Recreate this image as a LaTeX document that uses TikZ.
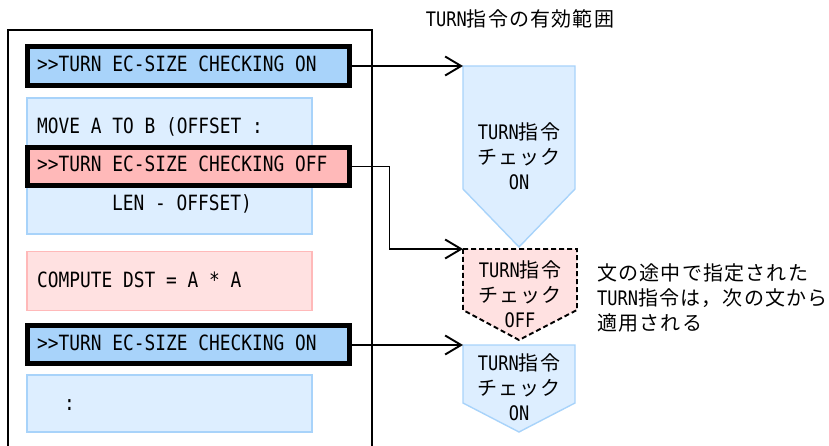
\documentclass[tikz,border=0pt]{standalone}
\usepackage{fontspec}
\usetikzlibrary{arrows.meta}
\newfontfamily\monof[FakeStretch=0.85]{DejaVu Sans Mono}
\newfontfamily\jpf[LetterSpace=6]{Noto Sans CJK JP}
\newcommand\turnw{{\monof TURN}}
\definecolor{bluestrong}{HTML}{A8D3FA}
\definecolor{bluelight}{HTML}{DDEEFF}
\definecolor{redstrong}{HTML}{FFB9B9}
\definecolor{redlight}{HTML}{FFE1E1}
\begin{document}
\begin{tikzpicture}[x=1pt,y=-1pt,
  code/.style={anchor=base west,inner sep=0pt,font=\monof\fontsize{21}{25}\selectfont},
  jtext/.style={inner sep=0pt,font=\jpf\fontsize{20}{25}\selectfont},
  strongbox/.style={draw=black,line width=5pt,minimum width=322pt,inner sep=0pt},
  lightbox/.style={line width=1.3pt,inner sep=0pt},
  conn/.style={line width=1.9pt},
  arr/.style={conn,-{Straight Barb[length=16pt,width=19pt,line width=1.9pt]}},
  pent/.style={line width=1.4pt}]
\useasboundingbox (0,0) rectangle (829,446);
% frame
\draw[line width=1.9pt] (8,446) -- (8,30) -- (372,30) -- (372,446);
% light boxes
\node[lightbox,draw=bluestrong,fill=bluelight,minimum width=285pt,minimum height=136pt] (b2) at (169.5,166) {};
\node[lightbox,draw=redstrong,fill=redlight,minimum width=285pt,minimum height=59pt] (b4) at (169.5,281) {};
\node[lightbox,draw=bluestrong,fill=bluelight,minimum width=285pt,minimum height=57pt] (b6) at (169.5,403.5) {};
% strong boxes
\node[strongbox,fill=bluestrong,minimum height=39pt] (b1) at (188.5,66) {};
\node[strongbox,fill=redstrong,minimum height=38pt] (b3) at (188.5,166.5) {};
\node[strongbox,fill=bluestrong,minimum height=38pt] (b5) at (188.5,344.7) {};
% code texts
\node[code] (t1) at (37,71.5) {>{}>TURN EC-SIZE CHECKING ON};
\node[code] (t2a) at (37,133.5) {MOVE A TO B (OFFSET :};
\node[code] (t3) at (37,171.5) {>{}>TURN EC-SIZE CHECKING OFF};
\node[code] (t2b) at (112,210.5) {LEN - OFFSET)};
\node[code] (t4) at (37,287.5) {COMPUTE DST = A * A};
\node[code] (t5) at (37,350.8) {>{}>TURN EC-SIZE CHECKING ON};
\node[code] (t6) at (64,410) {:};
% pentagons
\draw[pent,draw=bluestrong,fill=bluelight] (463,66) -- (575,66) -- (575,189) -- (519,247) -- (463,189) -- cycle;
\draw[pent,line width=1.9pt,draw=black,fill=redlight,dash pattern=on 5pt off 3pt] (463,249) -- (577,249) -- (577,310) -- (519,340) -- (463,310) -- cycle;
\draw[pent,draw=bluestrong,fill=bluelight] (463,345) -- (575,345) -- (575,403) -- (519,432) -- (463,403) -- cycle;
\coordinate (pA) at (463,66);
\coordinate (pB) at (463,249);
\coordinate (pC) at (463,345);
% pentagon texts
\node[jtext,align=center] (la) at (519,156) {\turnw 指令\\チェック\\{\monof ON}};
\node[jtext,align=center] (lb) at (520,294) {\turnw 指令\\チェック\\{\monof OFF}};
\node[jtext,align=center] (lc) at (519,387) {\turnw 指令\\チェック\\{\monof ON}};
% title and note
\node[jtext] (title) at (520,19) {\turnw 指令の有効範囲};
\node[jtext,anchor=west,align=left] (note) at (597,298) {文の途中で指定された\\\turnw 指令は，次の文から\\適用される};
% connectors
\draw[arr] (b1.east) -- (pA);
\draw[arr] (b3.east) -- ++(37.5,0) |- (pB);
\draw[arr] (b5.east |- pC) -- (pC);
\end{tikzpicture}
\end{document}
